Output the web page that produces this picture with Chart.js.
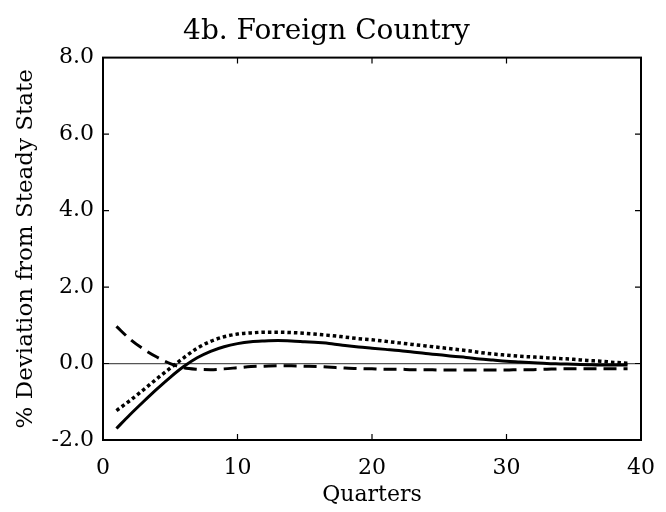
<!DOCTYPE html>
<html>
<head>
<meta charset="utf-8">
<script src="https://cdn.jsdelivr.net/npm/chart.js@4"></script>
<style>
  html, body { margin: 0; padding: 0; background: #fff; }
  #wrap { width: 666px; height: 512px; }
</style>
</head>
<body>
<div id="wrap"><canvas id="irfChart" width="666" height="512"></canvas></div>
<script>
/*---- data -------------------------- */
var quarters = [1,2,3,4,5,6,7,8,9,10,11,12,13,14,15,16,17,18,19,20,
                21,22,23,24,25,26,27,28,29,30,31,32,33,34,35,36,37,38,39];

var solidLine = [-1.70,-1.34,-1.00,-0.67,-0.36,-0.08,0.15,0.32,0.44,0.52,
                 0.57,0.59,0.60,0.59,0.57,0.55,0.52,0.47,0.43,0.40,
                 0.37,0.34,0.30,0.26,0.23,0.19,0.16,0.12,0.09,0.06,
                 0.04,0.02,0.00,-0.01,-0.02,-0.03,-0.04,-0.04,-0.04];

var dottedLine = [-1.23,-0.97,-0.69,-0.40,-0.12,0.15,0.40,0.58,0.70,0.77,
                  0.80,0.82,0.82,0.81,0.79,0.76,0.73,0.69,0.65,0.62,
                  0.58,0.54,0.50,0.46,0.42,0.38,0.34,0.29,0.25,0.22,
                  0.19,0.17,0.15,0.13,0.11,0.08,0.06,0.03,0.01];

var dashedLine = [0.97,0.64,0.38,0.17,0.00,-0.11,-0.15,-0.16,-0.14,-0.11,
                  -0.08,-0.07,-0.06,-0.06,-0.07,-0.08,-0.10,-0.12,-0.13,-0.14,
                  -0.15,-0.15,-0.16,-0.16,-0.17,-0.17,-0.17,-0.17,-0.17,-0.17,
                  -0.16,-0.16,-0.15,-0.14,-0.14,-0.14,-0.14,-0.14,-0.14];

var xTicks = [10, 20, 30];
var yTicks = [0, 2, 4, 6];

function toPoints(ys) {
    return quarters.map(function (q, i) { return { x: q, y: ys[i] }; });
}

var serif = 'DejaVu Serif, Liberation Serif, serif';

/*---- frame with inward ticks ----- */
var framePlugin = {
    id: 'frame',
    afterDatasetsDraw: function (chart) {
        var c = chart.ctx, a = chart.chartArea;
        var xs = chart.scales.x, ys = chart.scales.y;
        c.save();
        c.strokeStyle = '#000';
        c.lineWidth = 2;
        c.strokeRect(a.left, a.top, a.right - a.left, a.bottom - a.top);
        c.lineWidth = 1.2;
        c.beginPath();
        xTicks.forEach(function (v) {
            var px = xs.getPixelForValue(v);
            c.moveTo(px, a.bottom); c.lineTo(px, a.bottom - 6);
            c.moveTo(px, a.top); c.lineTo(px, a.top + 6);
        });
        yTicks.forEach(function (v) {
            var py = ys.getPixelForValue(v);
            c.moveTo(a.left, py); c.lineTo(a.left + 6, py);
            c.moveTo(a.right, py); c.lineTo(a.right - 6, py);
        });
        c.stroke();
        c.restore();
    }
};

var ctx = document.getElementById('irfChart').getContext('2d');
var irfChart = new Chart(ctx, {
    type: 'line',
    data: {
        datasets: [{
            label: 'solid',
            data: toPoints(solidLine),
            borderColor: '#000',
            borderWidth: 3,
            pointRadius: 0,
            cubicInterpolationMode: 'monotone'
        }, {
            label: 'dotted',
            data: toPoints(dottedLine),
            borderColor: '#000',
            borderWidth: 3.5,
            borderDash: [3.5, 3],
            pointRadius: 0,
            cubicInterpolationMode: 'monotone'
        }, {
            label: 'dashed',
            data: toPoints(dashedLine),
            borderColor: '#000',
            borderWidth: 3,
            borderDash: [13, 7],
            pointRadius: 0,
            cubicInterpolationMode: 'monotone'
        }]
    },
    options: {
        responsive: false,
        animation: false,
        layout: { padding: { left: 12, right: 25, top: 0, bottom: 0 } },
        plugins: {
            legend: { display: false },
            tooltip: { enabled: false },
            title: {
                display: true,
                text: '4b. Foreign Country',
                color: '#000',
                font: { family: serif, size: 28, weight: 'normal' },
                padding: { top: 15, bottom: 9 }
            }
        },
        scales: {
            x: {
                type: 'linear',
                min: 0,
                max: 40,
                ticks: { stepSize: 10, color: '#000', padding: 7,
                         font: { family: serif, size: 22 } },
                grid: { display: false },
                border: { display: false },
                title: { display: true, text: 'Quarters', color: '#000',
                         font: { family: serif, size: 22 }, padding: { top: 0, bottom: 4 } },
                afterFit: function (s) { s.height = 72; s.paddingLeft = 0; s.paddingRight = 0; }
            },
            y: {
                min: -2,
                max: 8,
                ticks: { stepSize: 2, color: '#000', padding: 9,
                         font: { family: serif, size: 22 },
                         callback: function (v) { return v.toFixed(1); } },
                grid: {
                    drawTicks: false,
                    lineWidth: 1.2,
                    color: function (c) { return c.tick && c.tick.value === 0 ? '#555' : 'rgba(0,0,0,0)'; }
                },
                border: { display: false },
                title: { display: true, text: '% Deviation from Steady State', color: '#000',
                         font: { family: serif, size: 23 }, padding: { top: 0, bottom: 4 } },
                afterFit: function (s) { s.width = 91; s.paddingTop = 0; s.paddingBottom = 0; }
            }
        }
    },
    plugins: [framePlugin]
});
</script>
</body>
</html>
